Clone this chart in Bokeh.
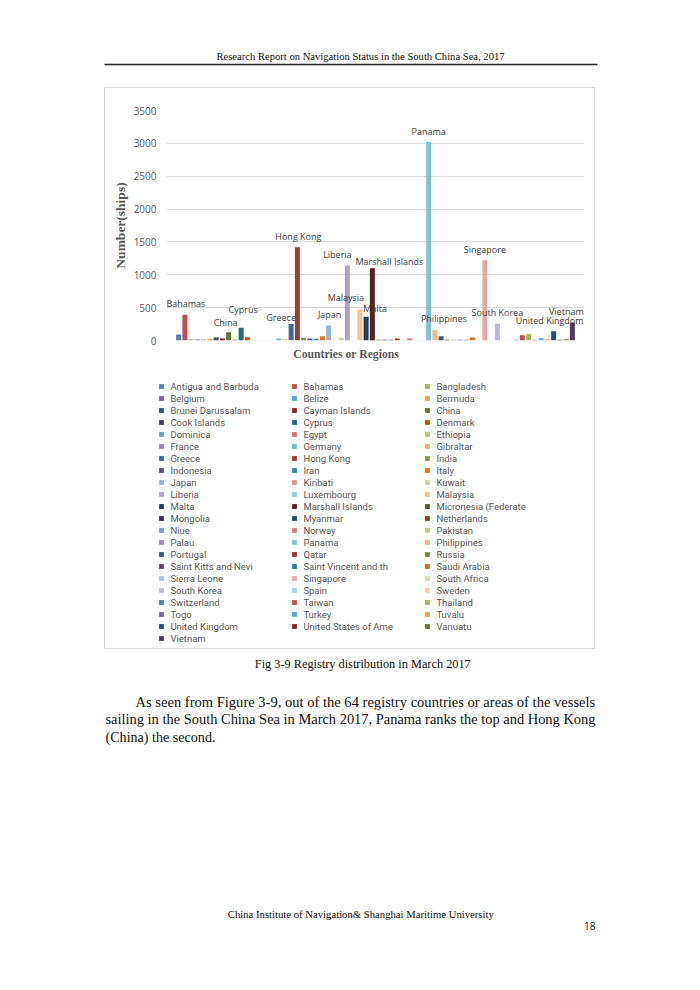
from bokeh.plotting import figure
from bokeh.layouts import column, row
from bokeh.models import (ColumnDataSource, FactorRange, Range1d, FixedTicker, Spacer,
                          Legend, LegendItem, LabelSet, Label, BoxAnnotation, Title)
from bokeh.core.properties import value
from bokeh.embed import file_html
from bokeh.resources import INLINE

# ---------------- data ----------------
countries = [
    "Antigua and Barbuda", "Bahamas", "Bangladesh", "Belgium", "Belize", "Bermuda",
    "Brunei Darussalam", "Cayman Islands", "China", "Cook Islands", "Cyprus", "Denmark",
    "Dominica", "Egypt", "Ethiopia", "France", "Germany", "Gibraltar",
    "Greece", "Hong Kong", "India", "Indonesia", "Iran", "Italy",
    "Japan", "Kiribati", "Kuwait", "Liberia", "Luxembourg", "Malaysia",
    "Malta", "Marshall Islands", "Micronesia (Federate", "Mongolia", "Myanmar", "Netherlands",
    "Niue", "Norway", "Pakistan", "Palau", "Panama", "Philippines",
    "Portugal", "Qatar", "Russia", "Saint Kitts and Nevi", "Saint Vincent and th", "Saudi Arabia",
    "Sierra Leone", "Singapore", "South Africa", "South Korea", "Spain", "Sweden",
    "Switzerland", "Taiwan", "Thailand", "Togo", "Turkey", "Tuvalu",
    "United Kingdom", "United States of Ame", "Vanuatu", "Vietnam",
]
ships = [
    90, 390, 20, 15, 15, 25,
    45, 30, 125, 10, 195, 50,
    5, 5, 5, 5, 30, 20,
    250, 1420, 40, 30, 25, 65,
    230, 5, 40, 1140, 5, 470,
    360, 1100, 10, 10, 10, 30,
    5, 35, 3, 3, 3020, 155,
    65, 10, 10, 10, 10, 45,
    3, 1220, 3, 255, 3, 3,
    10, 80, 95, 10, 35, 20,
    140, 10, 20, 275,
]
colors = [
    "#4F81BD", "#C0504D", "#9BBB59", "#8064A2", "#4BACC6", "#F79646",
    "#2C4D75", "#772C2A", "#5F7530", "#4D3B62", "#276A7C", "#B65708",
    "#729ACA", "#CD7371", "#AFC97A", "#9983B5", "#6FBDD1", "#F9AB6B",
    "#3A679C", "#9F3B38", "#7F9A48", "#604A7B", "#31859C", "#E8720C",
    "#95B3D7", "#D99694", "#C3D69B", "#B3A2C7", "#93CDDD", "#FAC090",
    "#1F3A5F", "#5A1F1E", "#465A22", "#3B2D4B", "#1F5261", "#8A4408",
    "#7E9DC9", "#D47F7D", "#B8CF8C", "#A08BBE", "#7CC3D6", "#F9B57F",
    "#345A8A", "#8E3533", "#6E8B3D", "#5B476F", "#2F7D92", "#D2691A",
    "#A9C1DF", "#E1AAA9", "#CFDEB0", "#C0B4D4", "#A9D8E4", "#FBCBA6",
    "#4A7EBB", "#C0504D", "#9BBB59", "#8064A2", "#4BACC6", "#F79646",
    "#2C4D75", "#772C2A", "#5F7530", "#4D3B62",
]
y_ticks = [0, 500, 1000, 1500, 2000, 2500, 3000, 3500]

labeled = ["Bahamas", "China", "Cyprus", "Greece", "Hong Kong", "Japan", "Liberia",
           "Malaysia", "Malta", "Marshall Islands", "Panama", "Philippines",
           "Singapore", "South Korea", "United Kingdom", "Vietnam"]
# label nudges (screen px) for the data labels
label_dx = [1, -3, 2, -10, 1, 1, -10, -14, 9, 17, 0, 9, 0, 0, -4, -6]
label_dy = [11, 10, 18, 7, 11, 11, 11, 12, 8, 7, 11, 12, 11, 11, 11, 11]

header = "Research Report on Navigation Status in the South China Sea, 2017"
caption = "Fig 3-9 Registry distribution in March 2017"
para = ["As seen from Figure 3-9, out of the 64 registry countries or areas of the vessels",
        "sailing in the South China Sea in March 2017, Panama ranks the top and Hong Kong",
        "(China) the second."]
footer = "China Institute of Navigation& Shanghai Maritime University"
page_no = "18"

SERIF = "Liberation Serif"
SANS = "Open Sans"

# ---------------- page geometry ----------------
TOP_H = 87                      # header strip (page y 0..87)
BOX_X, BOX_W, BOX_H = 104, 489, 560   # chart box: border at 104/87, canvas inside
PLOT_H = 282                    # upper part of the box: the bar plot
LEG_H = BOX_H - PLOT_H          # lower part of the box: the legend
BOT_H = 990 - TOP_H - BOX_H - 2
CX0, CY0 = BOX_X + 1, TOP_H + 1  # page position of the box canvas


def page_fig(h, y0):
    f = figure(width=700, height=h, x_range=Range1d(0, 700), y_range=Range1d(y0 + h, y0),
               x_axis_location=None, y_axis_location=None, min_border=0,
               output_backend="svg", toolbar_location=None, tools="")
    f.outline_line_color = None
    f.grid.visible = False
    f.frame_align = False
    return f


def text(f, t, X, Y, size, align="center", font=SERIF, color="#111111"):
    f.add_layout(Label(x=X, y=Y, text=t, text_align=align, text_baseline="middle",
                       text_font=font, text_font_size=size, text_color=color))


top = page_fig(TOP_H, 0)
text(top, header, 360, 55.7, "10.6px")
top.add_layout(BoxAnnotation(left=104, right=597, top=63.2, bottom=64.8,
                             fill_color="#222222", fill_alpha=1, line_color=None))

bottom = page_fig(BOT_H, 990 - BOT_H)
text(bottom, caption, 362.3, 663.3, "12.3px")
text(bottom, para[0], 135, 701, "14.55px", align="left")
text(bottom, para[1], 105, 718.5, "14.45px", align="left")
text(bottom, para[2], 105, 736, "14.1px", align="left")
text(bottom, footer, 360.3, 913.3, "10.7px")
text(bottom, page_no, 595, 925.7, "10px", align="right", font=SANS)

# ---------------- bar plot ----------------
FL, FR, FT, FB = 166, 584, 110, 340   # plot-area edges on the page
src = ColumnDataSource(dict(country=countries, ships=ships, color=colors))
lab_src = ColumnDataSource(dict(
    country=labeled,
    ships=[ships[countries.index(c)] for c in labeled],
    dx=label_dx, dy=label_dy))

p = figure(width=BOX_W, height=PLOT_H,
           x_range=FactorRange(*countries, range_padding=1.44, range_padding_units="absolute"),
           y_range=Range1d(0, 3500), x_axis_location=None,
           output_backend="svg", toolbar_location=None, tools="",
           min_border_left=FL - CX0, min_border_right=CX0 + BOX_W - FR,
           min_border_top=FT - CY0, min_border_bottom=CY0 + PLOT_H - FB)
p.frame_align = False
p.outline_line_color = None
p.background_fill_color = "white"
p.border_fill_color = "white"

p.vbar(x="country", top="ships", width=0.8, source=src,
       fill_color="color", line_color=None)

p.xgrid.visible = False
p.ygrid.grid_line_color = "#D9D9D9"
p.ygrid.ticker = FixedTicker(ticks=y_ticks)
p.yaxis.ticker = FixedTicker(ticks=y_ticks)
p.yaxis.axis_line_color = None
p.yaxis.major_tick_line_color = None
p.yaxis.minor_tick_line_color = None
p.yaxis.major_label_standoff = 4
p.yaxis.major_label_text_font = SANS
p.yaxis.major_label_text_font_size = "10px"
p.yaxis.major_label_text_color = "#595959"
p.yaxis.axis_label = "Number(ships)"
p.yaxis.axis_label_text_font = SERIF
p.yaxis.axis_label_text_font_style = "bold"
p.yaxis.axis_label_text_font_size = "13.5px"
p.yaxis.axis_label_text_color = "#595959"
p.yaxis.axis_label_standoff = 3

p.add_layout(LabelSet(x="country", y="ships", text="country", source=lab_src,
                      x_offset="dx", y_offset="dy",
                      text_align="center", text_baseline="middle",
                      text_font=value(SANS), text_font_size="9px",
                      text_color="#404040"))

p.add_layout(Title(text="Countries or Regions", align="left", offset=292.7 - FL,
                   standoff=10, text_font=SERIF, text_font_style="bold",
                   text_font_size="11.7px", text_color="#595959"), "below")

# ---------------- legend (lower part of the chart box) ----------------
# The legend reads the same series; its own copy of the bars is hidden.
lg = figure(width=BOX_W, height=LEG_H,
            x_range=FactorRange(*countries), y_range=Range1d(0, 3500),
            x_axis_location=None, y_axis_location=None, min_border=0,
            output_backend="svg", toolbar_location=None, tools="")
lg.frame_align = False
lg.outline_line_color = None
lg.grid.visible = False
rl = lg.vbar(x="country", top="ships", width=0.8, source=src,
             fill_color="color", line_color=None, visible=False)

LEG_LEFT, LEG_BOTTOM = 158.4, 644.2   # page position of the legend box
legend = Legend(items=[LegendItem(label=dict(field="country"), renderers=[rl])],
                ncols=3, orientation="horizontal", click_policy="none",
                glyph_width=6, glyph_height=6, label_height=12, label_width=121,
                label_standoff=6, spacing=0, padding=0, margin=0,
                border_line_color=None, background_fill_alpha=0,
                inactive_fill_alpha=0,
                label_text_font="Roboto", label_text_font_size="9.5px",
                label_text_color="#595959",
                location=(LEG_LEFT - CX0, CY0 + BOX_H - LEG_BOTTOM))
lg.add_layout(legend)

box = column(p, lg, styles={"border": "1px solid #D9D9D9"})
page = column(top, row(Spacer(width=BOX_X, height=BOX_H + 2), box), bottom)
open("out.html", "w").write(file_html(page, INLINE))
